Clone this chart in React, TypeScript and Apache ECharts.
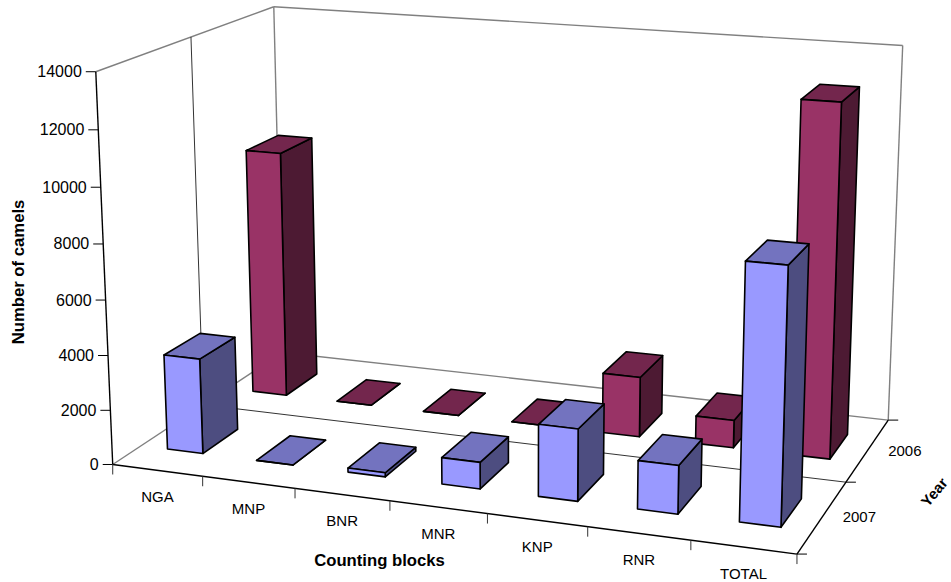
import React, { useEffect, useRef } from "react";
import * as echarts from "echarts";

const categories = ["NGA", "MNP", "BNR", "MNR", "KNP", "RNR", "TOTAL"];
const years = ["2007", "2006"];
const values2007 = [3510, 0, 150, 960, 2570, 1710, 8900];
const values2006 = [9420, 0, 0, 0, 2250, 1030, 12830];
const yTicks = [0, 2000, 4000, 6000, 8000, 10000, 12000, 14000];
const Y_MAX = 14000;

const FONT = '"Liberation Sans", Arial, sans-serif';
const BAR_GAP = 0.3; // share of a category band left empty on each side
const DEPTH_HALF = 0.1; // half a bar's depth, as a share of the floor's depth

// Landmarks of the box: [x, y, z] in unit space -> screen pixel.
const landmarks: number[][] = [
  [0, 0, 0, 112.5, 464],
  [1, 0, 0, 797, 553],
  [1, 0, 1, 888, 420],
  [0, 0, 1, 283, 352],
  [0, 1, 0, 96, 71],
  [0, 1, 1, 273, 7],
  [1, 1, 1, 903, 46],
  [0, 0, 0.5, 203, 405],
  [1, 0, 0.5, 846.7, 481.7],
  [0, 1, 0.5, 190.7, 37],
  [1 / 7, 0, 0, 202.3, 476.7],
  [2 / 7, 0, 0, 295, 489],
  [3 / 7, 0, 0, 390, 502],
  [4 / 7, 0, 0, 487, 514],
  [5 / 7, 0, 0, 587, 527],
  [6 / 7, 0, 0, 690.7, 540],
  [0, 6 / 7, 0, 98.5, 130],
  [0, 5 / 7, 0, 101, 187],
  [0, 2 / 7, 0, 109, 355],
];

// Least-squares 3x4 projective camera with its last entry fixed to 1.
function solveCamera(points: number[][]): number[] {
  const n = 11;
  const a = Array.from({ length: n }, () => new Array(n + 1).fill(0));
  const add = (row: number[], rhs: number) => {
    for (let i = 0; i < n; i++) {
      for (let j = 0; j < n; j++) a[i][j] += row[i] * row[j];
      a[i][n] += row[i] * rhs;
    }
  };
  for (const [x, y, z, u0, v0] of points) {
    const u = u0 / 1000;
    const v = v0 / 1000;
    add([x, y, z, 1, 0, 0, 0, 0, -u * x, -u * y, -u * z], u);
    add([0, 0, 0, 0, x, y, z, 1, -v * x, -v * y, -v * z], v);
  }
  for (let c = 0; c < n; c++) {
    let best = c;
    for (let r = c + 1; r < n; r++) if (Math.abs(a[r][c]) > Math.abs(a[best][c])) best = r;
    [a[c], a[best]] = [a[best], a[c]];
    for (let r = 0; r < n; r++) {
      if (r === c) continue;
      const f = a[r][c] / a[c][c];
      for (let k = c; k <= n; k++) a[r][k] -= f * a[c][k];
    }
  }
  return a.map((row, i) => row[n] / row[i]);
}

const cam = solveCamera(landmarks);
function project(x: number, y: number, z: number): [number, number] {
  const w = cam[8] * x + cam[9] * y + cam[10] * z + 1;
  return [
    (1000 * (cam[0] * x + cam[1] * y + cam[2] * z + cam[3])) / w,
    (1000 * (cam[4] * x + cam[5] * y + cam[6] * z + cam[7])) / w,
  ];
}

function makeBarRenderer(zCenter: number, front: string, top: string, side: string) {
  return (params: any, api: any) => {
    const cs = params.coordSys;
    const i = api.value(0);
    const [cx, py] = api.coord([i, api.value(1)]);
    const band = api.size([1, 0])[0];
    const x0 = (cx - band / 2 + BAR_GAP * band - cs.x) / cs.width;
    const x1 = (cx + band / 2 - BAR_GAP * band - cs.x) / cs.width;
    const h = (cs.y + cs.height - py) / cs.height;
    const z0 = zCenter - DEPTH_HALF;
    const z1 = zCenter + DEPTH_HALF;
    const face = (pts: [number, number][], fill: string) => ({
      type: "polygon",
      shape: { points: pts },
      style: { fill, stroke: "#000", lineWidth: 1.6, lineJoin: "round" },
    });
    return {
      type: "group",
      children: [
        face([project(x1, 0, z0), project(x1, 0, z1), project(x1, h, z1), project(x1, h, z0)], side),
        face([project(x0, h, z0), project(x1, h, z0), project(x1, h, z1), project(x0, h, z1)], top),
        face([project(x0, 0, z0), project(x1, 0, z0), project(x1, h, z0), project(x0, h, z0)], front),
      ],
    };
  };
}

function seg(a: [number, number], b: [number, number], stroke: string, lineWidth: number) {
  return {
    type: "line",
    silent: true,
    shape: { x1: a[0], y1: a[1], x2: b[0], y2: b[1] },
    style: { stroke, lineWidth },
  };
}

function label(text: string, x: number, y: number, size: number, extra: any = {}) {
  const { rotation, bold, align } = extra;
  return {
    type: "text",
    x,
    y,
    rotation: rotation || 0,
    silent: true,
    style: {
      text,
      x: 0,
      y: 0,
      fill: "#000",
      font: `${bold ? "bold " : ""}${size}px ${FONT}`,
      align: align || "center",
      verticalAlign: "middle",
    },
  };
}

function buildFrame() {
  const gray = "#808080";
  const dark = "#000";
  const els: any[] = [
    // walls and the far edges of the floor
    seg(project(0, 1, 0), project(0, 1, 1), gray, 1.4),
    seg(project(0, 1, 1), project(1, 1, 1), gray, 1.4),
    seg(project(1, 1, 1), project(1, 0, 1), gray, 1.4),
    seg(project(0, 1, 1), project(0, 0, 1), gray, 1.4),
    seg(project(0, 0, 1), project(1, 0, 1), gray, 1.4),
    seg(project(0, 0, 0), project(0, 0, 1), gray, 1.4),
    // divider between the two years
    seg(project(0, 1, 0.5), project(0, 0, 0.5), "#333", 1),
    seg(project(0, 0, 0.5), project(1, 0, 0.5), "#333", 1),
    // front axes
    seg(project(0, 1, 0), project(0, 0, 0), dark, 1.4),
    seg(project(0, 0, 0), project(1, 0, 0), dark, 1.4),
    seg(project(1, 0, 0), project(1, 0, 1), dark, 1.4),
  ];

  yTicks.forEach((t) => {
    const p = project(0, t / Y_MAX, 0);
    els.push(seg([p[0] - 10, p[1]], p, dark, 1));
    els.push(label(String(t), p[0] - 14, p[1], 16, { align: "right" }));
  });

  categories.forEach((c, i) => {
    const n = categories.length;
    const p = project(i / n, 0, 0);
    els.push(seg(p, [p[0], p[1] + 10], "#333", 1));
    const m = project((i + 0.5) / n, 0, 0);
    els.push(label(c, m[0], m[1] + 26, 15));
  });
  const end = project(1, 0, 0);
  els.push(seg(end, [end[0], end[1] + 10], "#333", 1));

  [0, 0.5, 1].forEach((z) => {
    const p = project(1, 0, z);
    els.push(seg(p, [p[0] + 10, p[1]], dark, 1));
  });
  years.forEach((y, i) => {
    const p = project(1, 0, 0.25 + i * 0.5);
    els.push(label(y, p[0] + 37, p[1], 15));
  });

  els.push(label("Number of camels", 18, 272, 16.7, { bold: true, rotation: Math.PI / 2 }));
  els.push(label("Counting blocks", 379.5, 560, 16.7, { bold: true }));
  els.push(label("Year", 934, 492, 15, { bold: true, rotation: (50 * Math.PI) / 180 }));
  return els;
}

export default function App() {
  const ref = useRef<HTMLDivElement>(null);
  useEffect(() => {
    const chart = echarts.init(ref.current!, undefined, { renderer: "svg" });
    const toData = (vals: number[]) => vals.map((v, i) => [i, v]);
    chart.setOption({
      animation: false,
      backgroundColor: "#fff",
      grid: { left: 0, right: 0, top: 0, bottom: 0 },
      xAxis: { type: "category", data: categories, show: false },
      yAxis: { type: "value", min: 0, max: Y_MAX, show: false },
      graphic: { elements: buildFrame() },
      series: [
        {
          type: "custom",
          name: "2006",
          data: toData(values2006),
          encode: { x: 0, y: 1 },
          renderItem: makeBarRenderer(0.75, "#993366", "#73264D", "#4D1A33"),
          z: 2,
        },
        {
          type: "custom",
          name: "2007",
          data: toData(values2007),
          encode: { x: 0, y: 1 },
          renderItem: makeBarRenderer(0.25, "#9999FF", "#7373BF", "#4D4D80"),
          z: 3,
        },
      ],
    });
    return () => chart.dispose();
  }, []);
  return <div ref={ref} style={{ position: "fixed", left: 0, top: 0, width: 951, height: 582 }} />;
}
